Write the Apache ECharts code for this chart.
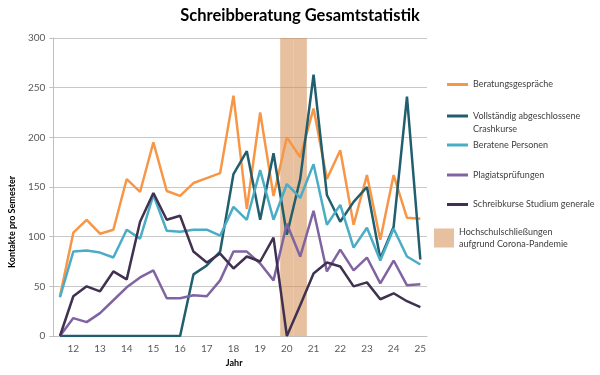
<!DOCTYPE html>
<html>
<head>
<meta charset="utf-8">
<script src="https://cdn.jsdelivr.net/npm/echarts@6/dist/echarts.min.js"></script>
<style>
  html, body { margin: 0; padding: 0; background: #fff; }
  #main { width: 600px; height: 375px; }
</style>
</head>
<body>
<div id="main"></div>
<script>
// Semester: 11.5 = WS 11/12, 12 = SS 12 usw.
var semester = ['11.5', '12', '12.5', '13', '13.5', '14', '14.5', '15', '15.5', '16', '16.5', '17', '17.5', '18',
    '18.5', '19', '19.5', '20', '20.5', '21', '21.5', '22', '22.5', '23', '23.5', '24', '24.5', '25'];

var beratungsgespraeche = [40, 104, 117, 103, 107, 158, 145, 195, 146, 141, 154, 159, 164, 242,
    128, 225, 141, 200, 180, 229, 158, 187, 112, 162, 97, 162, 119, 118];
var crashkurse = [0, 0, 0, 0, 0, 0, 0, 0, 0, 0, 62, 71, 85, 163,
    186, 117, 184, 102, 158, 263, 142, 115, 135, 150, 78, 110, 241, 77];
var beratenePersonen = [39, 85, 86, 84, 79, 107, 98, 142, 106, 105, 107, 107, 101, 130,
    117, 167, 117, 153, 139, 173, 112, 132, 89, 109, 76, 108, 80, 72];
var plagiatspruefungen = [0, 18, 14, 23, 36, 49, 59, 66, 38, 38, 41, 40, 56, 85,
    85, 73, 56, 113, 80, 126, 65, 87, 66, 79, 53, 76, 51, 52];
var studiumGenerale = [0, 40, 50, 45, 65, 57, 115, 144, 117, 121, 85, 74, 83, 68,
    80, 75, 99, 0, 31, 63, 74, 70, 50, 54, 37, 43, 35, 29];

// Schließungszeit (Semester 20 und 20.5)
var corona = [null, null, null, null, null, null, null, null, null, null, null, null, null, null,
    null, null, null, 300, 300, null, null, null, null, null, null, null, null, null];

var schrift = 'Lato, "Open Sans", sans-serif';

var myChart = echarts.init(document.getElementById('main'));

function linie(name, data, farbe) {
    return {
        name: name,
        type: 'line',
        data: data,
        symbol: 'none',
        lineStyle: { width: 2.5, color: farbe },
        itemStyle: { color: farbe },
        animation: false
    };
}

// eine Legende pro Eintrag, damit die Abstände stimmen
function legende(name, top, extra) {
    var l = {
        data: [name],
        left: 447,
        top: top,
        padding: 0,
        icon: 'rect',
        itemWidth: 21,
        itemHeight: 3,
        textStyle: { fontSize: 9, color: '#404040', fontFamily: schrift }
    };
    return Object.assign(l, extra || {});
}

var option = {
    backgroundColor: '#fff',
    title: {
        text: 'Schreibberatung Gesamtstatistik',
        left: 'center',
        top: 2,
        textStyle: { fontSize: 16.5, fontWeight: 'bold', color: '#000', fontFamily: schrift }
    },
    grid: { left: 45, right: 173, top: 38, bottom: 39 },
    legend: [
        legende('Beratungsgespräche', 80),
        legende('Vollständig abgeschlossene Crashkurse', 96.5, {
            // leere erste Zeile, damit die Linie auf Höhe der ersten Textzeile sitzt
            formatter: function () { return ' \nVollständig abgeschlossene\nCrashkurse'; },
            textStyle: { fontSize: 9, color: '#404040', fontFamily: schrift, lineHeight: 13 }
        }),
        legende('Beratene Personen', 140.5),
        legende('Plagiatsprüfungen', 170.5),
        legende('Schreibkurse Studium generale', 200),
        legende('Hochschulschließungen aufgrund Corona-Pandemie', 226, {
            left: 434,
            itemWidth: 20,
            itemHeight: 19,
            formatter: function () { return 'Hochschulschließungen\naufgrund Corona-Pandemie'; },
            textStyle: { fontSize: 9, color: '#404040', fontFamily: schrift, lineHeight: 12 }
        })
    ],
    xAxis: {
        type: 'category',
        data: semester,
        boundaryGap: true,
        name: 'Jahr',
        nameLocation: 'middle',
        nameGap: 22,
        nameTextStyle: { fontSize: 9, fontWeight: 'bold', color: '#000', fontFamily: schrift, padding: [0, 12, 0, 0] },
        axisLine: { lineStyle: { color: '#bfbfbf' } },
        axisTick: { interval: 0, length: 4, lineStyle: { color: '#bfbfbf' } },
        axisLabel: {
            interval: function (i) { return i % 2 === 1; },
            fontSize: 10,
            color: '#595959',
            fontFamily: schrift,
            margin: 8
        },
        splitLine: { show: false }
    },
    yAxis: {
        type: 'value',
        min: 0,
        max: 300,
        interval: 50,
        name: 'Kontakte pro Semester',
        nameLocation: 'middle',
        nameGap: 24,
        nameTextStyle: { fontSize: 9, fontWeight: 'bold', color: '#000', fontFamily: schrift, padding: [0, 70, 0, 0] },
        axisLine: { show: true, lineStyle: { color: '#bfbfbf' } },
        axisTick: { show: true, length: 4, lineStyle: { color: '#bfbfbf' } },
        axisLabel: { fontSize: 10, color: '#595959', fontFamily: schrift, margin: 8 },
        splitLine: { lineStyle: { color: '#c8c8c8', width: 1 } }
    },
    series: [
        linie('Beratungsgespräche', beratungsgespraeche, '#f79646'),
        linie('Vollständig abgeschlossene Crashkurse', crashkurse, '#215e6e'),
        linie('Beratene Personen', beratenePersonen, '#4bacc6'),
        linie('Plagiatsprüfungen', plagiatspruefungen, '#8064a2'),
        linie('Schreibkurse Studium generale', studiumGenerale, '#403151'),
        {
            name: 'Hochschulschließungen aufgrund Corona-Pandemie',
            type: 'bar',
            data: corona,
            barWidth: '100%',
            itemStyle: { color: 'rgba(210,140,80,0.55)' },
            animation: false
        }
    ]
};

myChart.setOption(option);
</script>
</body>
</html>
